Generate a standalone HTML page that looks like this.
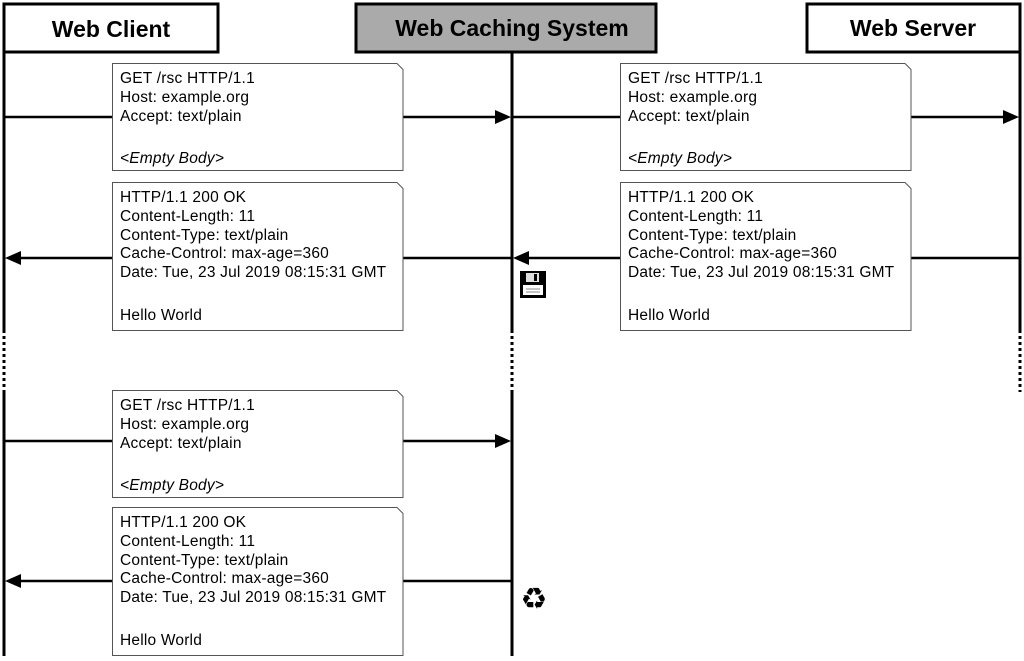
<!DOCTYPE html>
<html><head><meta charset="utf-8"><style>
html,body{margin:0;padding:0;background:#fff;}
svg{display:block;font-family:"Liberation Sans",Arial,sans-serif;}
.t{font-size:15.5px;letter-spacing:0.2px;}
</style></head><body>
<svg width="1024" height="661" viewBox="0 0 1024 661" xmlns="http://www.w3.org/2000/svg">
<defs>
<g id="req">
<path d="M0.5 0.5 H285 L291 6.5 V107.5 H0.5 Z" fill="#fff" stroke="#555" stroke-width="1"/>
<text class="t" x="8" y="20">GET /rsc HTTP/1.1</text>
<text class="t" x="8" y="39">Host: example.org</text>
<text class="t" x="8" y="58">Accept: text/plain</text>
<text class="t" x="8" y="100" font-style="italic">&lt;Empty Body&gt;</text>
</g>
<g id="resp">
<path d="M0.5 0.5 H285 L291 6.5 V148.5 H0.5 Z" fill="#fff" stroke="#555" stroke-width="1"/>
<text class="t" x="8" y="20">HTTP/1.1 200 OK</text>
<text class="t" x="8" y="39">Content-Length: 11</text>
<text class="t" x="8" y="58">Content-Type: text/plain</text>
<text class="t" x="8" y="76">Cache-Control: max-age=360</text>
<text class="t" x="8" y="95">Date: Tue, 23 Jul 2019 08:15:31 GMT</text>
<text class="t" x="8" y="138">Hello World</text>
</g>
</defs>
<g stroke="#000" stroke-width="3">
<line x1="4" y1="52" x2="4" y2="330"/><line x1="4" y1="392" x2="4" y2="656"/>
<line x1="512" y1="52" x2="512" y2="330"/><line x1="512" y1="392" x2="512" y2="656"/>
<line x1="1020" y1="52" x2="1020" y2="330"/>
</g>
<g stroke="#000" stroke-width="3" stroke-dasharray="3,3">
<line x1="4" y1="330" x2="4" y2="392"/>
<line x1="512" y1="330" x2="512" y2="392"/>
<line x1="1020" y1="330" x2="1020" y2="392"/>
</g>
<rect x="4" y="4" width="214" height="48" fill="#fff" stroke="#000" stroke-width="3"/>
<text x="111" y="37" font-size="23" font-weight="bold" text-anchor="middle">Web Client</text>
<rect x="356" y="4" width="300" height="48" fill="#aaa" stroke="#000" stroke-width="3"/>
<text x="512" y="36" font-size="23" font-weight="bold" text-anchor="middle">Web Caching System</text>
<rect x="807" y="4" width="213" height="48" fill="#fff" stroke="#000" stroke-width="3"/>
<text x="913" y="36" font-size="23" font-weight="bold" text-anchor="middle">Web Server</text>
<g stroke="#000" stroke-width="2.5">
<line x1="4" y1="117" x2="498" y2="117"/>
<line x1="512" y1="117" x2="1006" y2="117"/>
<line x1="18" y1="258" x2="512" y2="258"/>
<line x1="526" y1="258" x2="1020" y2="258"/>
<line x1="4" y1="441" x2="498" y2="441"/>
<line x1="18" y1="581" x2="512" y2="581"/>
</g>
<g fill="#000">
<path d="M511 117 L495 110 L495 124 Z"/>
<path d="M1019 117 L1003 110 L1003 124 Z"/>
<path d="M5 258 L21 251 L21 265 Z"/>
<path d="M513 258 L529 251 L529 265 Z"/>
<path d="M511 441 L495 434 L495 448 Z"/>
<path d="M5 581 L21 574 L21 588 Z"/>
</g>
<use href="#req" x="112" y="63"/>
<use href="#req" x="620" y="63"/>
<use href="#resp" x="112" y="182"/>
<use href="#resp" x="620" y="182"/>
<use href="#req" x="112" y="390"/>
<use href="#resp" x="112" y="507"/>
<g>
<rect x="520" y="271" width="26" height="27" fill="#000"/>
<rect x="526" y="273" width="13" height="9" fill="#ddd"/>
<rect x="534" y="274" width="3" height="7" fill="#000"/>
<rect x="523" y="285" width="20" height="10" fill="#fff"/>
<line x1="526" y1="289" x2="540" y2="289" stroke="#888" stroke-width="1"/>
<line x1="526" y1="292" x2="540" y2="292" stroke="#888" stroke-width="1"/>
</g>
<text x="534" y="609" font-size="30" font-weight="bold" text-anchor="middle" font-family="DejaVu Sans,sans-serif">♻</text>
</svg>
</body></html>
